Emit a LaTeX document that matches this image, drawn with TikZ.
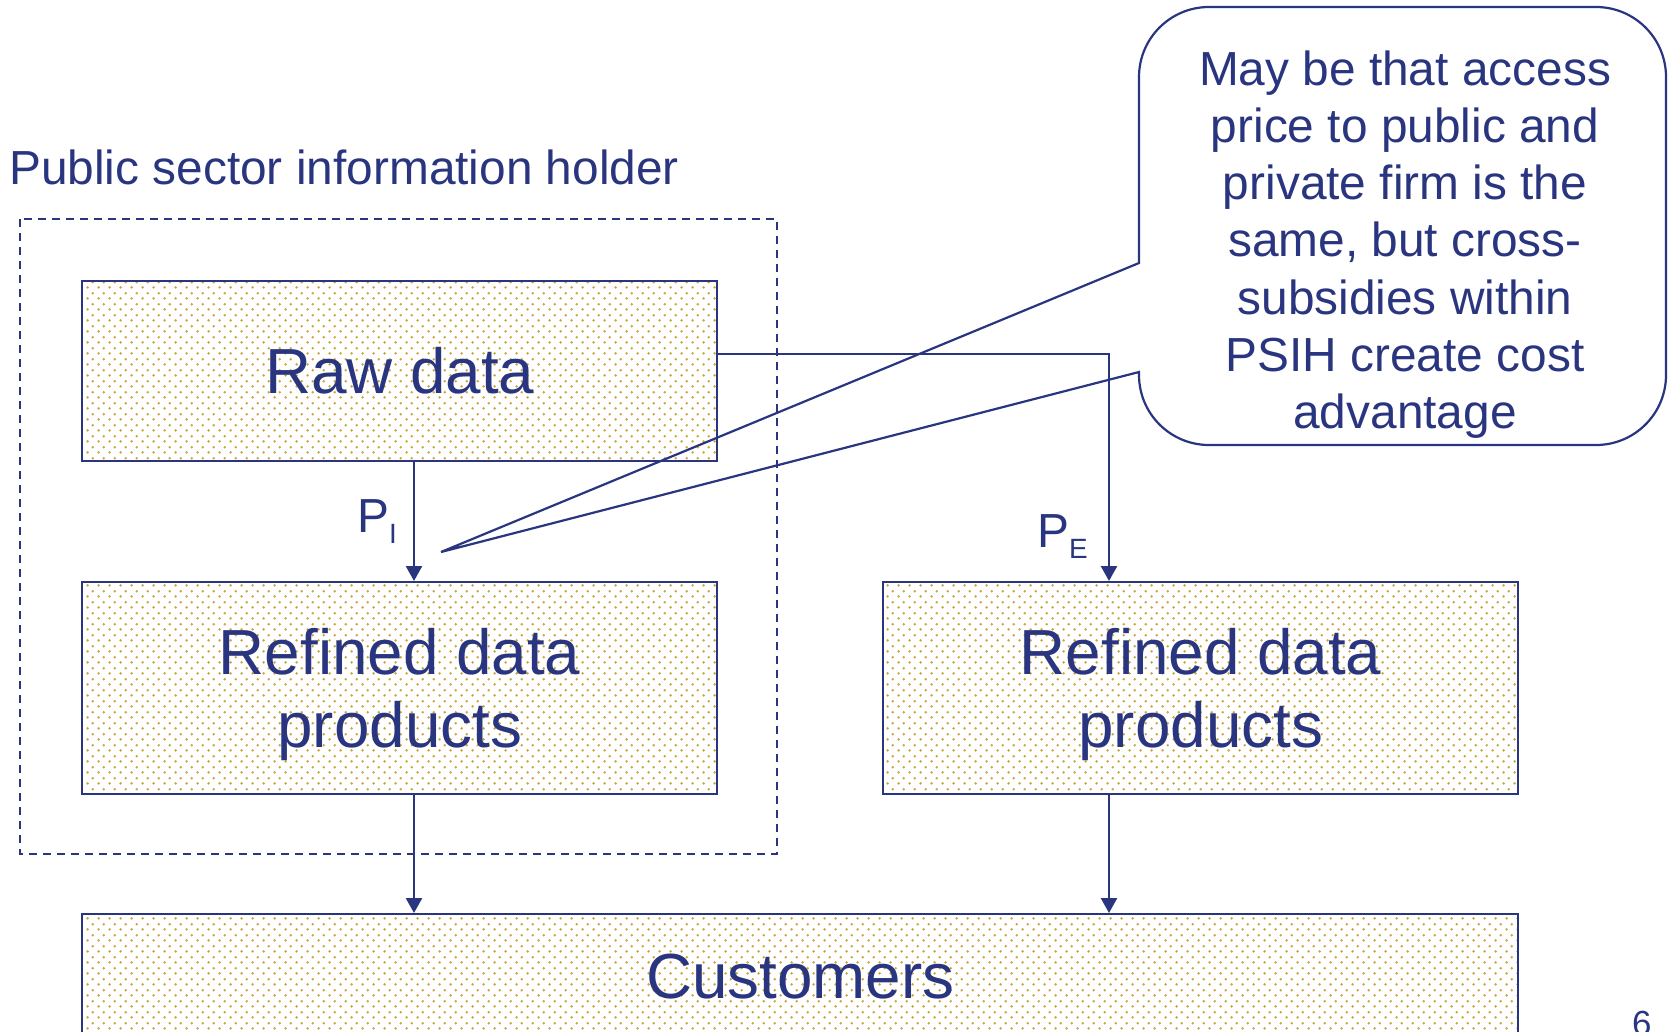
\documentclass[tikz,border=0pt]{standalone}
\usepackage{fontspec}
\setmainfont{Liberation Sans}
\usetikzlibrary{arrows.meta,patterns.meta}

\definecolor{ink}{HTML}{2A3580}
\definecolor{dotgold}{HTML}{CCA53C}

% staggered gold dot texture used inside the boxes
\tikzdeclarepattern{
  name=golddots, type=uncolored,
  bounding box={(0,0) and (10.67bp,10.67bp)},
  tile size={(10.67bp,10.67bp)},
  code={
    \fill (2.67bp,2.67bp) circle (1.4bp);
    \fill (8bp,8bp) circle (1.4bp);
  }
}

% line strut giving every text line the same ascent and descent
\newcommand\lnstrut{\rule[-0.22em]{0pt}{1.15em}}

\begin{document}
\begin{tikzpicture}[
    x=1bp, y=-1bp,
    every node/.style={text=ink, inner sep=0pt},
    databox/.style={draw=ink, line width=2.4bp, pattern=golddots,
      pattern color=dotgold, anchor=north west, align=center,
      font=\fontsize{64}{73.6}\selectfont},
    flow/.style={draw=ink, line width=2.4bp,
      -{Triangle[width=16bp,length=15bp]}},
    holder/.style={draw=ink, line width=1.8bp, dash pattern=on 8bp off 6bp},
    callout/.style={draw=ink, line width=2.2bp},
    midtext/.style={font=\fontsize{48}{57.3}\selectfont},
  ]
  \useasboundingbox (0,0) rectangle (1669,1031);
  \clip (0,0) rectangle (1669,1031);

  % public sector information holder
  \node[midtext, anchor=base west] (title) at (9,184) {Public sector information holder};
  \draw[holder] (20,219) rectangle (777,854);

  % boxes
  \node[databox, minimum width=635bp, minimum height=180bp] (raw) at (81,280)
    {\lnstrut Raw data};
  \node[databox, minimum width=635bp, minimum height=212bp] (refL) at (81,581)
    {\lnstrut Refined data\\\lnstrut products};
  \node[databox, minimum width=635bp, minimum height=212bp] (refR) at (882,581)
    {\lnstrut Refined data\\\lnstrut products};
  \node[databox, minimum width=1436bp, minimum height=124bp] (cust) at (81,913)
    {\lnstrut Customers};

  % connector columns
  \coordinate (colL) at (414,0);
  \coordinate (colR) at (1109,0);
  \coordinate (bend) at (1109,354);

  \draw[flow] (raw.south -| colL) -- (refL.north -| colL);
  \draw[flow] (raw.east |- bend) -- (bend) -- (refR.north -| bend);
  \draw[flow] (refL.south -| colL) -- (cust.north -| colL);
  \draw[flow] (refR.south -| colR) -- (cust.north -| colR);

  % price labels
  \node[anchor=base west] (pI) at (357,532)
    {\fontsize{48}{48}\selectfont P\raisebox{-11bp}{\fontsize{28}{28}\selectfont I}};
  \node[anchor=base west] (pE) at (1037,547)
    {\fontsize{48}{48}\selectfont P\raisebox{-11bp}{\fontsize{28}{28}\selectfont E}};

  % callout balloon
  \coordinate (tip) at (441,552);
  \draw[callout] (1139,263) [rounded corners=70bp] -- (1139,7) -- (1666,7)
    -- (1666,445) -- (1139,445) [sharp corners] -- (1139,372) -- (tip) -- cycle;
  \node[midtext, align=center] (note) at (1405,240)
    {\lnstrut May be that access\\\lnstrut price to public and\\\lnstrut private firm is the\\
     \lnstrut same, but cross-\\\lnstrut subsidies within\\\lnstrut PSIH create cost\\
     \lnstrut advantage};

  % page number
  \node[anchor=base west, font=\fontsize{35}{35}\selectfont] (page) at (1632,1035) {6};
\end{tikzpicture}
\end{document}
